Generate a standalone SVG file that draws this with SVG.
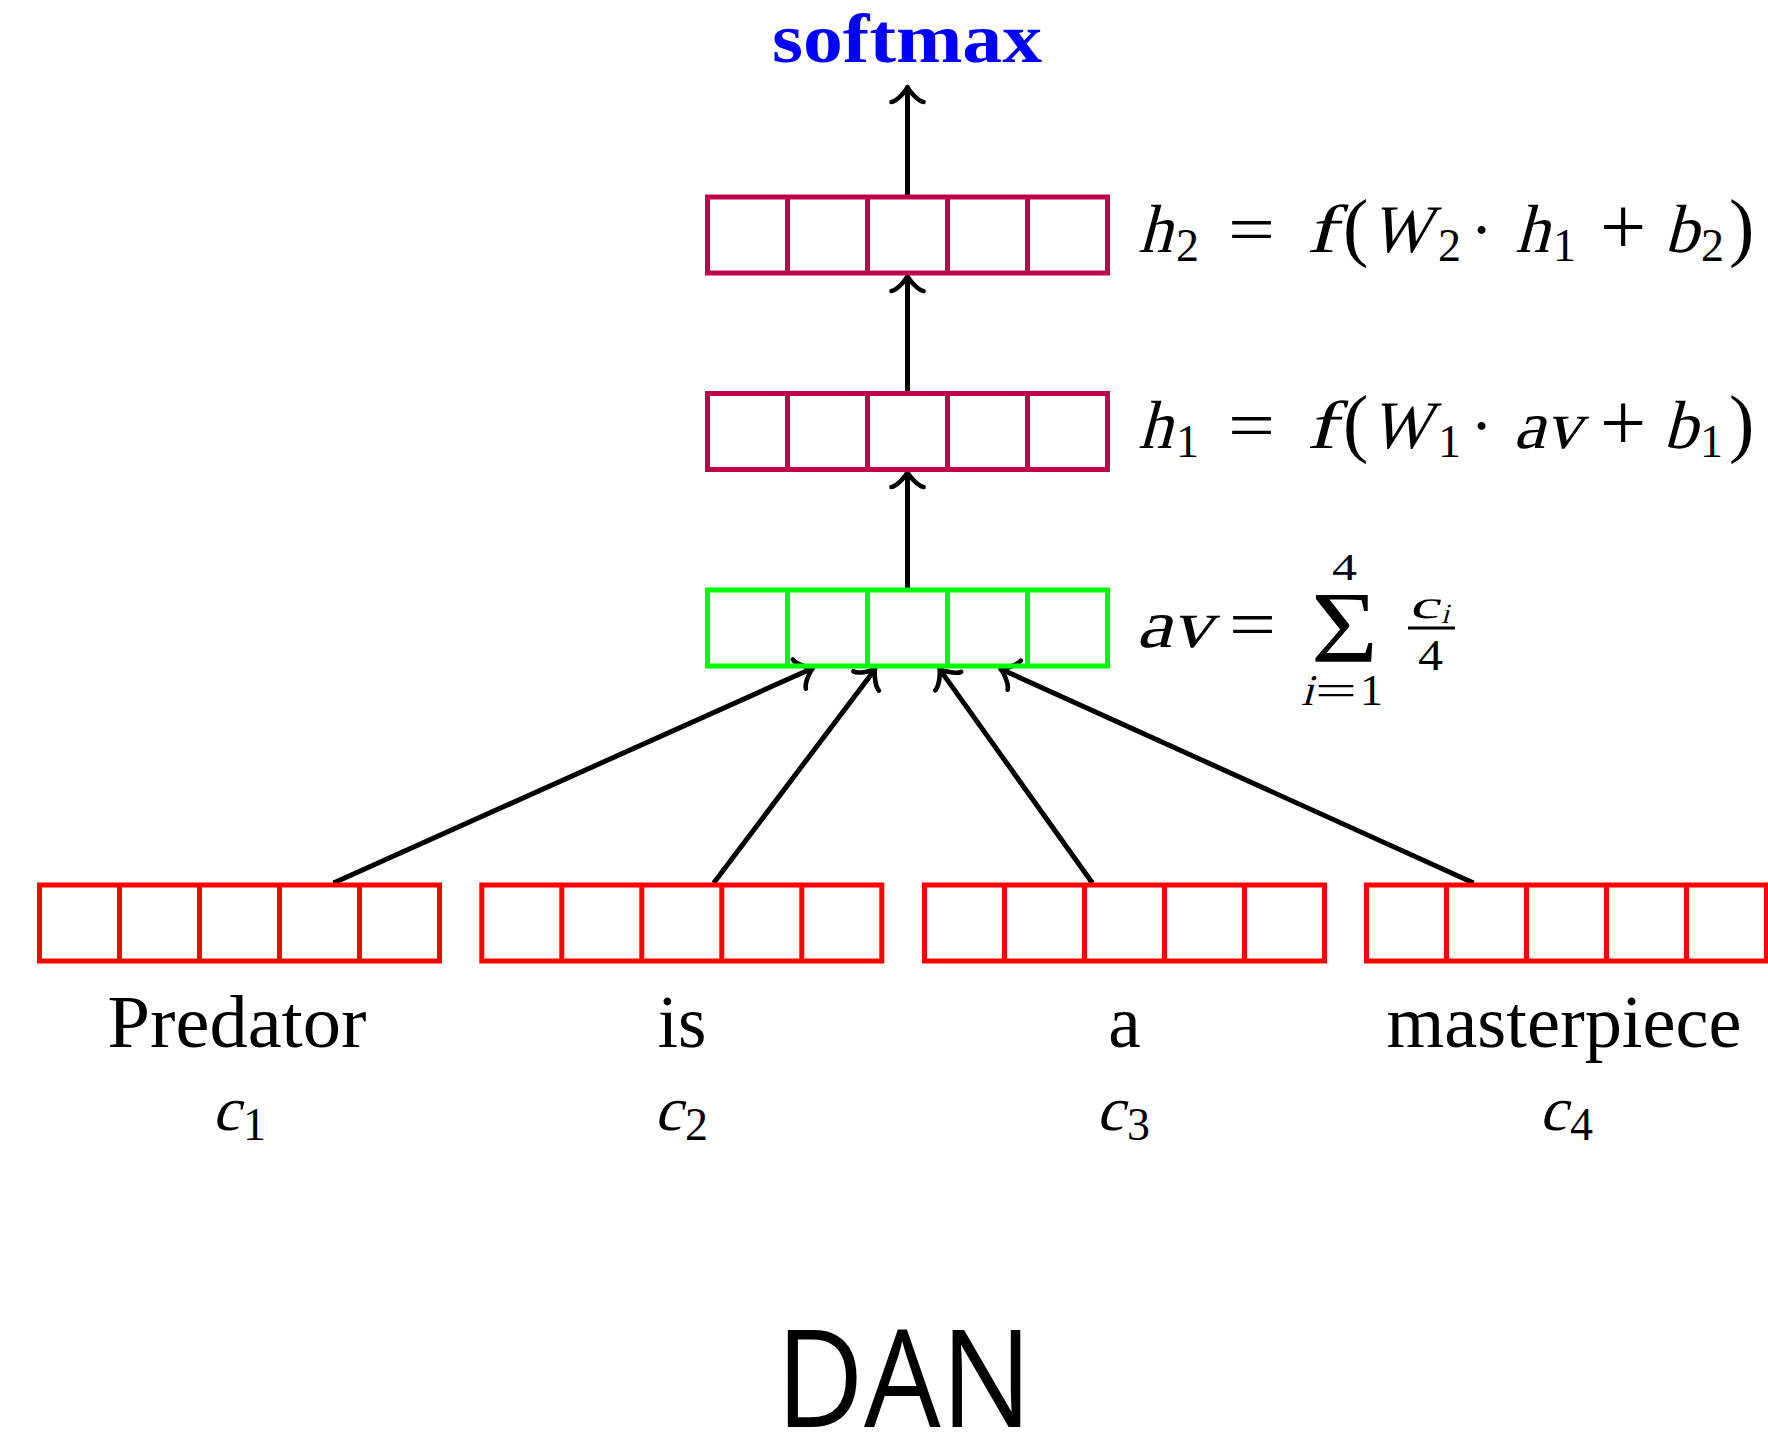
<svg xmlns="http://www.w3.org/2000/svg" xmlns:xlink="http://www.w3.org/1999/xlink" width="1768" height="1435" viewBox="0 0 1768 1435">
<style>
.cells{fill:none;stroke-width:5}
.purple{stroke:#C0004A}
.green{stroke:#00FF00}
.red{stroke:#FF0000}
.conn{stroke:#000;stroke-width:5;fill:none}
text{font-family:"Liberation Serif","DejaVu Serif",serif;fill:#000}
.m{font-size:68px}
.sub{font-size:46px}
.word{font-size:73px;text-anchor:middle}
</style>
<defs>
<g id="cells">
<rect x="0" y="0" width="400" height="76"/>
<path d="M80 0V76M160 0V76M240 0V76M320 0V76"/>
</g>
<marker id="to" markerUnits="userSpaceOnUse" viewBox="-20 -20 26 40" refX="-3" refY="0" markerWidth="26" markerHeight="40" orient="auto" overflow="visible">
<path d="M-15 -16C-14 -10 -3 -1 0 0C-3 1 -14 10 -15 16" fill="none" stroke="#000" stroke-width="4.6" stroke-linecap="round" stroke-linejoin="round"/>
</marker>
</defs>
<rect width="1768" height="1435" fill="#fff"/>

<g id="connectors" class="conn">
<line x1="907.5" y1="197" x2="907.5" y2="90" marker-end="url(#to)"/>
<line x1="907.5" y1="393.5" x2="907.5" y2="279" marker-end="url(#to)"/>
<line x1="907.5" y1="590" x2="907.5" y2="475" marker-end="url(#to)"/>
<line x1="333.5" y1="883" x2="810.3" y2="669.2" marker-end="url(#to)"/>
<line x1="713.7" y1="883" x2="873.4" y2="671.4" marker-end="url(#to)"/>
<line x1="1092.4" y1="883" x2="941.2" y2="671.4" marker-end="url(#to)"/>
<line x1="1473.6" y1="883" x2="1003.3" y2="670.2" marker-end="url(#to)"/>
</g>

<g id="softmax">
<text x="772" y="62" font-weight="bold" style="font-size:70px;fill:#0000FF" textLength="270" lengthAdjust="spacingAndGlyphs">softmax</text>
</g>

<g id="h2">
<use xlink:href="#cells" href="#cells" x="707.5" y="197" class="cells purple"/>
<text class="m" transform="translate(1138,252) skewX(-15)">h</text>
<text class="sub" x="1176" y="261">2</text>
<text class="m" x="1228" y="252" textLength="47" lengthAdjust="spacingAndGlyphs">=</text>
<text class="m" transform="translate(1306,252) skewX(-15)" textLength="30" lengthAdjust="spacingAndGlyphs">f</text>
<text x="1343" y="252" style="font-size:76px">(</text>
<text class="m" transform="translate(1370,252) skewX(-15)" textLength="60" lengthAdjust="spacingAndGlyphs">W</text>
<text class="sub" x="1438" y="261">2</text>
<text class="m" x="1481.5" y="252" text-anchor="middle">·</text>
<text class="m" transform="translate(1515,252) skewX(-15)">h</text>
<text class="sub" x="1553" y="261">1</text>
<text x="1600" y="254" style="font-size:82px">+</text>
<text class="m" transform="translate(1664,252) skewX(-15)">b</text>
<text class="sub" x="1701" y="261">2</text>
<text x="1729" y="252" style="font-size:76px">)</text>
</g>

<g id="h1">
<use xlink:href="#cells" href="#cells" x="707.5" y="393.5" class="cells purple"/>
<text class="m" transform="translate(1138,448) skewX(-15)">h</text>
<text class="sub" x="1176" y="457">1</text>
<text class="m" x="1228" y="448" textLength="47" lengthAdjust="spacingAndGlyphs">=</text>
<text class="m" transform="translate(1306,448) skewX(-15)" textLength="30" lengthAdjust="spacingAndGlyphs">f</text>
<text x="1343" y="448" style="font-size:76px">(</text>
<text class="m" transform="translate(1370,448) skewX(-15)" textLength="60" lengthAdjust="spacingAndGlyphs">W</text>
<text class="sub" x="1438" y="457">1</text>
<text class="m" x="1481.5" y="448" text-anchor="middle">·</text>
<text class="m" transform="translate(1513,448) skewX(-15)" textLength="68" lengthAdjust="spacingAndGlyphs">av</text>
<text x="1600" y="450" style="font-size:82px">+</text>
<text class="m" transform="translate(1663,448) skewX(-15)">b</text>
<text class="sub" x="1700" y="457">1</text>
<text x="1729" y="448" style="font-size:76px">)</text>
</g>

<g id="av">
<use xlink:href="#cells" href="#cells" x="707.5" y="590" class="cells green"/>
<text class="m" transform="translate(1136,647) skewX(-15)" textLength="76" lengthAdjust="spacingAndGlyphs">av</text>
<text class="m" x="1229" y="647" textLength="47" lengthAdjust="spacingAndGlyphs">=</text>
<text x="1311" y="662" style="font-size:102px" textLength="67" lengthAdjust="spacingAndGlyphs">Σ</text>
<text x="1332" y="580" style="font-size:37px" textLength="25" lengthAdjust="spacingAndGlyphs">4</text>
<text transform="translate(1301,705) skewX(-15)" style="font-size:44px" textLength="12" lengthAdjust="spacingAndGlyphs">i</text>
<text x="1315" y="705" style="font-size:44px" textLength="42" lengthAdjust="spacingAndGlyphs">=</text>
<text x="1360" y="705" style="font-size:44px" textLength="23" lengthAdjust="spacingAndGlyphs">1</text>
<text transform="translate(1409,618) skewX(-15)" style="font-size:40px" textLength="30" lengthAdjust="spacingAndGlyphs">c</text>
<text transform="translate(1441,623) skewX(-15)" style="font-size:28px">i</text>
<line x1="1408" y1="628" x2="1455" y2="628" stroke="#000" stroke-width="3"/>
<text x="1418" y="670" style="font-size:44px" textLength="25" lengthAdjust="spacingAndGlyphs">4</text>
</g>

<g id="w1">
<use xlink:href="#cells" href="#cells" x="39.5" y="885" class="cells red"/>
<text class="word" x="237" y="1047" textLength="259" lengthAdjust="spacingAndGlyphs">Predator</text>
<text transform="translate(212,1130) skewX(-15)" style="font-size:62px">c</text>
<text class="sub" x="243" y="1140">1</text>
</g>
<g id="w2">
<use xlink:href="#cells" href="#cells" x="481.8" y="885" class="cells red"/>
<text class="word" x="682" y="1047">is</text>
<text transform="translate(654,1130) skewX(-15)" style="font-size:62px">c</text>
<text class="sub" x="685" y="1140">2</text>
</g>
<g id="w3">
<use xlink:href="#cells" href="#cells" x="924.5" y="885" class="cells red"/>
<text class="word" x="1124.5" y="1047">a</text>
<text transform="translate(1096,1130) skewX(-15)" style="font-size:62px">c</text>
<text class="sub" x="1127" y="1140">3</text>
</g>
<g id="w4">
<use xlink:href="#cells" href="#cells" x="1366.5" y="885" class="cells red"/>
<text class="word" x="1564" y="1047" textLength="355" lengthAdjust="spacingAndGlyphs">masterpiece</text>
<text transform="translate(1539,1130) skewX(-15)" style="font-size:62px">c</text>
<text class="sub" x="1570" y="1140">4</text>
</g>

<g id="title">
<text x="776" y="1427" style="font-family:'Open Sans','Liberation Sans',sans-serif;font-size:136px" textLength="256" lengthAdjust="spacingAndGlyphs">DAN</text>
</g>
</svg>
